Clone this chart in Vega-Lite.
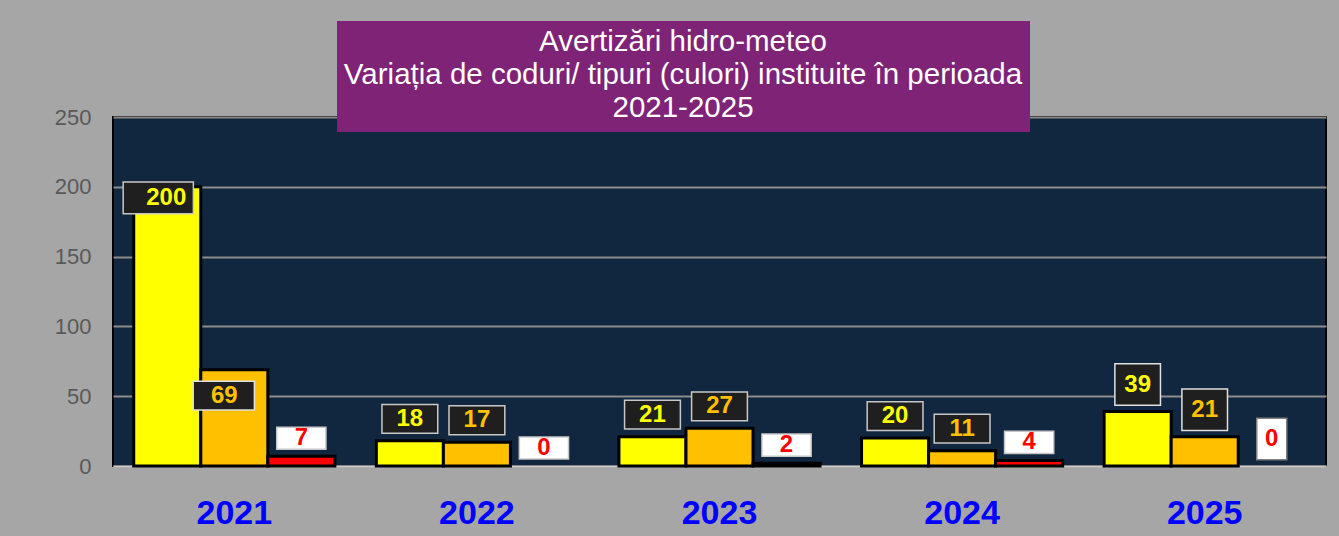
{
  "$schema": "https://vega.github.io/schema/vega-lite/v6.json",
  "width": 1213,
  "height": 349,
  "autosize": {"type": "none"},
  "padding": {"left": 113, "top": 117, "right": 13, "bottom": 70},
  "background": "#a6a6a6",
  "data": {
    "values": [
      {"year": "2021", "series": "Galben", "value": 200},
      {"year": "2021", "series": "Portocaliu", "value": 69},
      {"year": "2021", "series": "Roșu", "value": 7},
      {"year": "2022", "series": "Galben", "value": 18},
      {"year": "2022", "series": "Portocaliu", "value": 17},
      {"year": "2022", "series": "Roșu", "value": 0},
      {"year": "2023", "series": "Galben", "value": 21},
      {"year": "2023", "series": "Portocaliu", "value": 27},
      {"year": "2023", "series": "Roșu", "value": 2},
      {"year": "2024", "series": "Galben", "value": 20},
      {"year": "2024", "series": "Portocaliu", "value": 11},
      {"year": "2024", "series": "Roșu", "value": 4},
      {"year": "2025", "series": "Galben", "value": 39},
      {"year": "2025", "series": "Portocaliu", "value": 21},
      {"year": "2025", "series": "Roșu", "value": 0}
    ]
  },
  "encoding": {
    "x": {
      "field": "year", "type": "nominal", "title": null,
      "scale": {"paddingInner": 0.171, "paddingOuter": 0.0855},
      "axis": {
        "labelAngle": 0, "labelFont": "Liberation Sans", "labelFontSize": 34, "labelFontWeight": "bold",
        "labelColor": "#0000ff", "ticks": false, "labelPadding": 30,
        "domainColor": "#c8c8c8", "domainWidth": 2, "grid": false
      }
    },
    "xOffset": {"field": "series", "type": "nominal", "scale": {"paddingInner": 0, "paddingOuter": 0}},
    "y": {
      "field": "value", "type": "quantitative", "title": null,
      "scale": {"domain": [0, 250], "nice": false},
      "axis": {
        "values": [0, 50, 100, 150, 200, 250], "labelFont": "Liberation Sans", "labelFontSize": 22,
        "labelColor": "#595959", "ticks": false, "domain": false, "labelPadding": 22,
        "gridColor": "#8c8c8c", "gridWidth": 2
      }
    }
  },
  "layer": [
    {
      "mark": {"type": "bar", "stroke": "#000000", "strokeWidth": 3},
      "encoding": {
        "strokeOpacity": {"condition": {"test": "datum.value == 0", "value": 0}, "value": 1},
        "color": {
          "field": "series", "type": "nominal",
          "scale": {"domain": ["Galben", "Portocaliu", "Roșu"], "range": ["#ffff00", "#ffc000", "#ff0000"]},
          "legend": {
            "title": ["Avertizări hidro-meteo", "Variația de coduri/ tipuri (culori) instituite în perioada", "2021-2025"],
            "orient": "none", "legendX": 224, "legendY": -96, "direction": "horizontal",
            "padding": 7, "fillColor": "#7e2376", "zindex": 2,
            "titleFont": "Liberation Sans", "titleFontSize": 29.5, "titleFontWeight": "normal", "titleColor": "#ffffff",
            "titleAlign": "center", "titleAnchor": "middle", "titleLimit": 2000, "titleLineHeight": 33,
            "titleBaseline": "top", "titlePadding": 0,
            "symbolSize": 0, "symbolOpacity": 0, "symbolStrokeWidth": 0,
            "labelFontSize": 1, "labelOpacity": 0, "labelOffset": 0, "labelLimit": 1,
            "columnPadding": 0, "rowPadding": 0
          }
        }
      }
    },
    {
      "transform": [{"filter": "datum.series != 'Roșu' && datum.year != '2021' && datum.year != '2025'"}],
      "mark": {"type": "point", "filled": true, "size": 3600, "yOffset": -22, "opacity": 1, "stroke": "#c8c8c8", "strokeWidth": 1.5, "fill": "#1f1f1f",
               "shape": "M-0.93,-0.48H0.93V0.48H-0.93Z"}
    },
    {
      "transform": [{"filter": "datum.series != 'Roșu' && datum.year != '2021' && datum.year != '2025'"}],
      "mark": {"type": "text", "font": "Liberation Sans", "fontSize": 24, "fontWeight": "bold", "baseline": "middle", "dy": -22},
      "encoding": {
        "text": {"field": "value", "type": "quantitative"},
        "fill": {"field": "series", "type": "nominal", "legend": null,
          "scale": {"domain": ["Galben", "Portocaliu", "Roșu"], "range": ["#ffff00", "#ffc000", "#ff0000"]}}
      }
    },
    {
      "transform": [{"filter": "datum.series == 'Roșu' && datum.year != '2025'"}],
      "mark": {"type": "point", "filled": true, "size": 3600, "yOffset": -18, "opacity": 1, "stroke": "#c8c8c8", "strokeWidth": 1.5, "fill": "#ffffff",
               "shape": "M-0.82,-0.37H0.82V0.37H-0.82Z"}
    },
    {
      "transform": [{"filter": "datum.series == 'Roșu' && datum.year != '2025'"}],
      "mark": {"type": "text", "font": "Liberation Sans", "fontSize": 24, "fontWeight": "bold", "baseline": "middle", "dy": -18},
      "encoding": {
        "text": {"field": "value", "type": "quantitative"},
        "fill": {"field": "series", "type": "nominal", "legend": null}
      }
    },
    {
      "transform": [{"filter": "datum.year == '2021' && datum.series == 'Galben'"}],
      "mark": {"type": "point", "filled": true, "size": 3600, "yOffset": 11, "opacity": 1, "stroke": "#c8c8c8", "strokeWidth": 1.5, "fill": "#1f1f1f",
               "shape": "M-1.47,-0.53H0.87V0.53H-1.47Z"}
    },
    {
      "transform": [{"filter": "datum.year == '2021' && datum.series == 'Galben'"}],
      "mark": {"type": "text", "font": "Liberation Sans", "fontSize": 24, "fontWeight": "bold", "baseline": "middle", "dy": 11, "dx": -1},
      "encoding": {
        "text": {"field": "value", "type": "quantitative"},
        "fill": {"field": "series", "type": "nominal", "legend": null}
      }
    },
    {
      "transform": [{"filter": "datum.year == '2021' && datum.series == 'Portocaliu'"}],
      "mark": {"type": "point", "filled": true, "size": 3600, "yOffset": 26, "opacity": 1, "stroke": "#e0e0e0", "strokeWidth": 1.5, "fill": "#1f1f1f",
               "shape": "M-1.37,-0.48H0.67V0.48H-1.37Z"}
    },
    {
      "transform": [{"filter": "datum.year == '2021' && datum.series == 'Portocaliu'"}],
      "mark": {"type": "text", "font": "Liberation Sans", "fontSize": 24, "fontWeight": "bold", "baseline": "middle", "dy": 26, "dx": -10},
      "encoding": {
        "text": {"field": "value", "type": "quantitative"},
        "fill": {"field": "series", "type": "nominal", "legend": null}
      }
    },
    {
      "transform": [{"filter": "datum.year == '2025' && datum.series != 'Roșu'"}],
      "mark": {"type": "point", "filled": true, "size": 3600, "yOffset": -27, "opacity": 1, "stroke": "#e0e0e0", "strokeWidth": 1.5, "fill": "#1f1f1f",
               "shape": "M-0.76,-0.69H0.76V0.69H-0.76Z"}
    },
    {
      "transform": [{"filter": "datum.year == '2025' && datum.series == 'Roșu'"}],
      "mark": {"type": "point", "filled": true, "size": 3600, "yOffset": -27, "opacity": 1, "stroke": "#808080", "strokeWidth": 1.5, "fill": "#ffffff",
               "shape": "M-0.5,-0.69H0.5V0.69H-0.5Z"}
    },
    {
      "transform": [{"filter": "datum.year == '2025'"}],
      "mark": {"type": "text", "font": "Liberation Sans", "fontSize": 24, "fontWeight": "bold", "baseline": "middle", "dy": -27},
      "encoding": {
        "text": {"field": "value", "type": "quantitative"},
        "fill": {"field": "series", "type": "nominal", "legend": null}
      }
    }
  ],
  "config": {
    "view": {"fill": "#10273f", "stroke": "#000000", "strokeWidth": 2},
    "font": "Liberation Sans"
  }
}
